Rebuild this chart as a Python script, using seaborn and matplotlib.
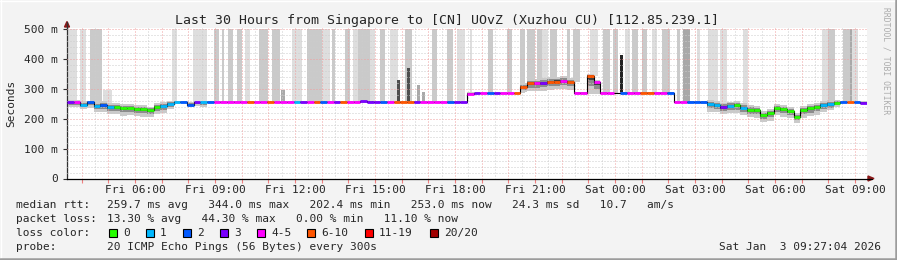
import numpy as np
import matplotlib
matplotlib.use("Agg")
import matplotlib.pyplot as plt
import seaborn as sns
from matplotlib.patches import Rectangle, Polygon
from matplotlib.lines import Line2D

nan = float("nan")

# ---------------- data ----------------
START_H = 3.451      # Fri 03:27:04, hours since Fri 00:00
STEP_H = 0.25        # 15-minute bins

median_ms = [
    256, 256, 247, 255, 242, 246, 240, 240, 236, 237,
    233, 232, 228, 240, 243, 250, 256, 256, 247, 255,
    256, 256, 256, 256, 256, 256, 256, 256, 256, 256,
    256, 256, 256, 256, 256, 256, 256, 256, 256, 256,
    256, 256, 256, 256, 259, 257, 256, 256, 256, 256,
    256, 256, 256, 256, 256, 256, 256, 256, 256, 256,
    283, 285, 285, 285, 285, 285, 285, 285, 305, 318,
    318, 319, 323, 324, 326, 322, 286, 286, 344, 322,
    286, 286, nan, 286, 286, 286, 286, 286, 286, 286,
    286, 256, 256, 256, 256, 256, 248, 246, 240, 243,
    244, 237, 230, 228, 212, 218, 236, 232, 226, 206,
    228, 234, 238, 246, 248, 253, 256, 255, 255, 253,
]

loss_code = [
    3, 4, 1, 2, 1, 2, 1, 0, 0, 0,
    0, 0, 0, 0, 1, 1, 1, 2, 2, 3,
    1, 2, 4, 4, 4, 4, 4, 5, 4, 4,
    5, 4, 4, 4, 1, 3, 4, 5, 2, 4,
    3, 5, 4, 4, 3, 3, 3, 2, 4, 5,
    5, 5, 3, 4, 4, 4, 4, 2, 3, 3,
    4, 3, 4, 2, 3, 4, 4, 5, 5, 5,
    4, 3, 5, 5, 4, 5, 4, 4, 5, 4,
    4, 4, 7, 2, 4, 4, 5, 5, 4, 4,
    2, 4, 4, 2, 2, 2, 1, 1, 3, 1,
    0, 1, 0, 0, 0, 0, 0, 0, 0, 0,
    0, 0, 0, 1, 1, 0, 2, 5, 2, 3,
]

smoke_lo = [
    240, 238, 232, 235, 222, 222, 215, 214, 210, 212,
    208, 206, 204, 214, 220, 232, 250, 252, 238, 242,
    240, 252, 252, 252, 252, 252, 252, 252, 252, 252,
    252, 252, 252, 252, 252, 252, 252, 252, 252, 252,
    252, 252, 252, 252, 252, 252, 252, 252, 252, 252,
    252, 252, 252, 252, 252, 252, 252, 252, 252, 252,
    281, 281, 281, 281, 281, 281, 281, 281, 290, 292,
    292, 294, 296, 298, 300, 296, 282, 282, 282, 282,
    282, 282, nan, 282, 282, 282, 282, 282, 282, 282,
    282, 251, 251, 251, 251, 250, 223, 221, 215, 218,
    219, 212, 205, 203, 190, 193, 211, 207, 201, 186,
    203, 209, 213, 221, 228, 240, 251, 251, 251, 251,
]

smoke_hi = [
    261, 261, 258, 260, 256, 258, 252, 252, 248, 249,
    245, 244, 240, 252, 255, 258, 259, 259, 255, 259,
    259, 259, 259, 259, 259, 259, 259, 259, 259, 259,
    259, 259, 259, 259, 259, 259, 259, 259, 259, 259,
    259, 259, 259, 259, 262, 260, 259, 259, 259, 259,
    259, 259, 259, 259, 259, 259, 259, 259, 259, 259,
    289, 289, 289, 289, 289, 289, 289, 289, 318, 332,
    334, 336, 340, 340, 342, 336, 289, 289, 350, 330,
    289, 289, nan, 289, 289, 289, 289, 289, 289, 289,
    289, 259, 259, 259, 259, 259, 262, 260, 254, 257,
    258, 251, 244, 242, 226, 232, 250, 246, 240, 220,
    242, 248, 252, 260, 262, 262, 259, 259, 259, 259,
]

# high-latency smoke bursts: start hour, end hour, top (ms), shade level
burst_start = [3.45, 3.94, 4.31, 4.80, 7.39, 8.18, 8.96, 9.26, 9.49, 9.83,
               10.13, 10.65, 11.14, 11.48, 11.89, 12.45, 13.01, 13.39, 13.88, 14.18,
               14.36, 14.81, 15.19, 15.56, 15.83, 16.13, 16.20, 16.58, 16.76, 17.14,
               17.70, 18.08, 18.56, 19.24, 19.95, 20.44, 20.70, 21.08, 21.26, 21.56,
               22.20, 22.43, 23.06, 23.55, 23.93, 24.19, 24.38, 24.64, 25.01, 25.39,
               25.76, 26.33, 26.55, 27.08, 27.49, 27.94, 28.80, 31.76, 31.99, 32.55,
               32.81, 32.89]
burst_end = [3.83, 4.16, 4.76, 5.14, 7.58, 8.70, 9.15, 9.34, 9.68, 10.01,
             10.31, 10.99, 11.44, 11.63, 12.26, 13.01, 13.31, 13.50, 14.06, 14.36,
             14.81, 15.00, 15.38, 15.86, 15.94, 16.39, 16.31, 16.69, 16.88, 17.33,
             17.93, 18.38, 18.64, 19.43, 20.14, 20.63, 21.00, 21.26, 21.49, 21.83,
             22.31, 22.69, 23.36, 23.81, 24.11, 24.30, 24.56, 24.86, 25.20, 25.58,
             26.06, 26.44, 26.81, 27.19, 27.86, 28.20, 28.99, 31.99, 32.25, 32.81,
             32.89, 33.11]
burst_top = [500, 500, 500, 297, 500, 500, 500, 500, 500, 500,
             500, 500, 500, 297, 500, 500, 500, 500, 500, 500,
             500, 500, 500, 500, 330, 500, 370, 313, 290, 500,
             500, 500, 500, 500, 500, 500, 500, 500, 500, 500,
             500, 500, 500, 500, 500, 413, 500, 500, 500, 500,
             500, 500, 500, 500, 500, 500, 500, 500, 500, 500,
             500, 500]
burst_shade = [1, 1, 2, 1, 1, 1, 2, 2, 2, 2,
               1, 2, 2, 3, 1, 2, 1, 2, 2, 1,
               2, 1, 2, 1, 4, 2, 4, 3, 3, 2,
               2, 1, 1, 2, 2, 2, 2, 2, 1, 2,
               2, 2, 1, 2, 2, 5, 1, 2, 2, 1,
               2, 2, 3, 1, 1, 1, 1, 1, 2, 2,
               3, 1]

loss_colors = ["#26ff00", "#00b8ff", "#0059ff", "#7a00ff",
               "#ff00ff", "#ff5500", "#ff0000", "#a10000"]
loss_labels = ["0", "1", "2", "3", "4-5", "6-10", "11-19", "20/20"]
shade_colors = {1: "#dedede", 2: "#cacaca", 3: "#a9a9a9", 4: "#4e4e4e", 5: "#242424"}

tick_hours = [6, 9, 12, 15, 18, 21, 24, 27, 30, 33]
tick_labels = ["Fri 06:00", "Fri 09:00", "Fri 12:00", "Fri 15:00", "Fri 18:00",
               "Fri 21:00", "Sat 00:00", "Sat 03:00", "Sat 06:00", "Sat 09:00"]
y_ticks = [0, 100, 200, 300, 400, 500]
y_tick_labels = ["0", "100 m", "200 m", "300 m", "400 m", "500 m"]

title = "Last 30 Hours from Singapore to [CN] UOvZ (Xuzhou CU) [112.85.239.1]"
stat_rows = [
    ("median rtt:", "259.7 ms avg   344.0 ms max   202.4 ms min   253.0 ms now   24.3 ms sd   10.7   am/s"),
    ("packet loss:", "13.30 % avg   44.30 % max   0.00 % min   11.10 % now"),
    ("loss color:", None),
    ("probe:", "20 ICMP Echo Pings (56 Bytes) every 300s"),
]
timestamp = "Sat Jan  3 09:27:04 2026"

# ---------------- drawing ----------------
sns.set_theme(style="white")
plt.rcParams["font.family"] = ["DejaVu Sans Mono", "DejaVu Sans"]

W, H = 897, 260
fig = plt.figure(figsize=(W / 100, H / 100), dpi=100, facecolor="#f3f3f3")


def fx(px):
    return px / W


def fy(py):
    return 1 - py / H


AX_L, AX_R, AX_T, AX_B = 67, 867, 28, 178.5
ax = fig.add_axes([fx(AX_L), fy(AX_B), (AX_R - AX_L) / W, (AX_B - AX_T) / H])
ax.set_facecolor("white")
ax.set_xlim(START_H, START_H + 30)
ax.set_ylim(0, 503)

med = np.array(median_ms, float)
lo = np.array(smoke_lo, float)
hi = np.array(smoke_hi, float)
codes = np.array(loss_code)
edges = START_H + STEP_H * np.arange(len(med) + 1)

# bursts (lighter first)
order = np.argsort(burst_shade, kind="stable")
for k in order:
    s, e, top, sh = burst_start[k], burst_end[k], burst_top[k], burst_shade[k]
    idx = min(int((s - START_H) / STEP_H), len(med) - 1)
    base = med[idx] if not np.isnan(med[idx]) else 286
    ax.bar(s, top - base, width=e - s, bottom=base, align="edge",
           color=shade_colors[sh], linewidth=0, zorder=1)

# smoke core around the median
ext = lambda a: np.append(a, a[-1])
ax.fill_between(edges, ext(lo), ext(hi), step="post", color="#cacaca", lw=0, zorder=2)
ax.fill_between(edges, ext(med - 0.55 * (med - lo)), ext(med + 0.55 * (hi - med)),
                step="post", color="#8c8c8c", lw=0, zorder=2)
ax.fill_between(edges, ext(med - 0.25 * (med - lo)), ext(med + 0.25 * (hi - med)),
                step="post", color="#404040", lw=0, zorder=2)

# grid
dot = (0, (1, 2))
for v in range(20, 501, 20):
    col = "#f0a0a0" if v % 100 == 0 else "#cdcdcd"
    ax.axhline(v, color=col, lw=0.72, ls=dot, zorder=3)
for h2 in range(7, 67):
    h = h2 / 2
    col = "#f0a0a0" if h2 % 2 == 0 else "#cdcdcd"
    ax.axvline(h, color=col, lw=0.72, ls=dot, zorder=3)

# median line
sns.lineplot(x=edges, y=ext(med), drawstyle="steps-post", color="black",
             lw=0.8, ax=ax, zorder=4, estimator=None, sort=False)
valid = ~np.isnan(med)
ax.hlines(med[valid], edges[:-1][valid], edges[1:][valid],
          colors=[loss_colors[c] for c in codes[valid]], lw=2.0, zorder=5)

# axes decoration
for s in ["top", "right"]:
    ax.spines[s].set_visible(False)
ax.spines["left"].set_color("#303030")
ax.spines["left"].set_linewidth(0.9)
ax.spines["bottom"].set_color("#000000")
ax.spines["bottom"].set_linewidth(0.9)
ax.set_yticks(y_ticks)
ax.set_yticklabels(y_tick_labels)
ax.tick_params(axis="y", left=True, length=3, width=0.8, color="#303030",
               pad=3.5, labelsize=8)
hour_ticks = list(range(4, 34))
ax.set_xticks(hour_ticks)
ax.set_xticklabels([tick_labels[tick_hours.index(h)] if h in tick_hours else "" for h in hour_ticks])
ax.tick_params(axis="x", bottom=True, length=3, width=0.8, color="#f08080",
               pad=2.0, labelsize=8)
ax.set_xlabel("")
ax.set_ylabel("")

# axis extensions and arrows
fig.add_artist(Line2D([fx(AX_L), fx(AX_L)], [fy(AX_T), fy(22)], color="#303030", lw=0.9))
fig.add_artist(Line2D([fx(AX_R), fx(872)], [fy(AX_B), fy(AX_B)], color="#000000", lw=0.9))
fig.add_artist(Polygon([(fx(64.5), fy(27)), (fx(69.5), fy(27)), (fx(67), fy(21.5))],
                       closed=True, color="#8b1a1a", transform=fig.transFigure))
fig.add_artist(Polygon([(fx(868), fy(176)), (fx(868), fy(181)), (fx(874), fy(178.5))],
                       closed=True, color="#8b1a1a", transform=fig.transFigure))

# texts
fig.text(fx(447), fy(24), title, ha="center", va="baseline", size=9.5)
fig.text(fx(11), fy(103), "Seconds", rotation=90, ha="center", va="center", size=8)
fig.text(fx(886), fy(61), "RRDTOOL / TOBI OETIKER", rotation=270, ha="center",
         va="center", size=5.8, color="#ababab")

baselines = [208, 221.7, 235.7, 250]
for (label, value), yb in zip(stat_rows, baselines):
    fig.text(fx(16), fy(yb), label, ha="left", va="baseline", size=8)
    if value is not None:
        fig.text(fx(107), fy(yb), value, ha="left", va="baseline", size=8)

box_x = [109, 146, 183, 220, 257, 307, 365, 430]
for bx, col, lab in zip(box_x, loss_colors, loss_labels):
    fig.add_artist(Rectangle((fx(bx), fy(236.5)), 8 / W, 8 / H, transform=fig.transFigure,
                             facecolor=col, edgecolor="black", lw=0.8))
    fig.text(fx(bx + 14), fy(235.7), lab, ha="left", va="baseline", size=8)

fig.text(fx(881), fy(250), timestamp, ha="right", va="baseline", size=8)

# 3D-ish image border
fig.add_artist(Line2D([0, 1], [fy(0.5), fy(0.5)], color="#ffffff", lw=1.0))
fig.add_artist(Line2D([fx(0.5), fx(0.5)], [0, 1], color="#ffffff", lw=1.0))
fig.add_artist(Line2D([0, 1], [fy(258.8), fy(258.8)], color="#9c9c9c", lw=1.8))
fig.add_artist(Line2D([fx(895.8), fx(895.8)], [0, 1], color="#9c9c9c", lw=1.8))

fig.savefig("out.png", dpi=100, facecolor=fig.get_facecolor())
